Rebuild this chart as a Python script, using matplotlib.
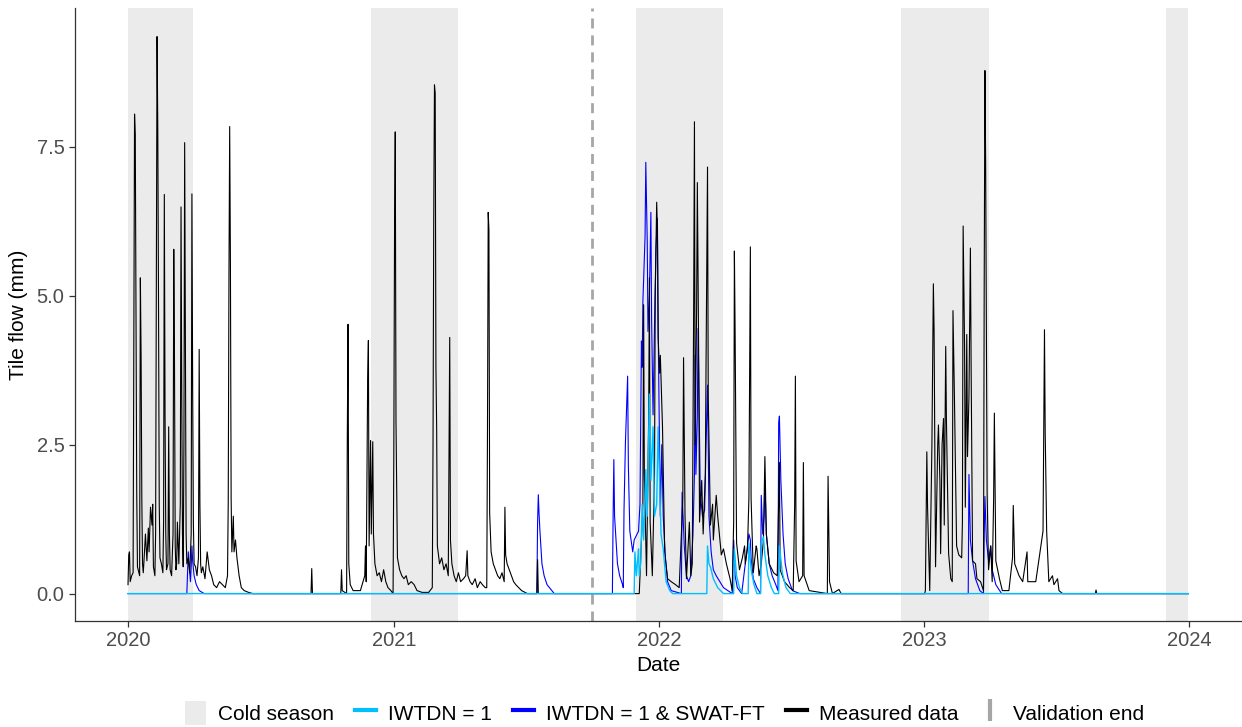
import matplotlib
matplotlib.use("Agg")
import matplotlib.pyplot as plt
import matplotlib.dates as mdates
from matplotlib.patches import Patch
from matplotlib.lines import Line2D
import pandas as pd

plt.rcParams['font.family'] = ['Liberation Sans', 'DejaVu Sans']

# days since 2020-01-01 and daily tile flow (mm)
meas_day = [0, 1, 2, 3, 5, 7, 8, 9, 10, 11, 12, 13, 15, 16, 17, 18, 19, 20, 21, 22,
            24, 26, 28, 29, 31, 33, 34, 35, 37, 38, 39, 40, 41, 42, 43, 44, 46, 48, 49, 50,
            51, 52, 53, 55, 56, 57, 58, 60, 62, 63, 64, 65, 66, 67, 68, 70, 72, 73, 74, 75,
            76, 77, 78, 79, 80, 81, 83, 85, 87, 88, 89, 90, 91, 93, 95, 97, 98, 99, 100, 101,
            103, 106, 109, 112, 115, 118, 122, 126, 130, 134, 137, 138, 139, 140, 141, 142, 143, 145, 146, 148,
            150, 153, 156, 160, 166, 172, 252, 253, 254, 293, 294, 295, 301, 302, 303, 304, 306, 310, 320, 326,
            327, 328, 330, 331, 332, 334, 335, 337, 338, 340, 343, 346, 349, 352, 355, 358, 362, 365, 366, 367,
            368, 369, 371, 374, 377, 380, 383, 386, 390, 394, 398, 405, 414, 419, 420, 421, 422, 423, 424, 425,
            426, 429, 432, 435, 438, 441, 442, 443, 444, 446, 449, 452, 455, 458, 462, 465, 467, 468, 471, 474,
            478, 481, 485, 488, 492, 494, 495, 496, 497, 498, 500, 503, 506, 509, 512, 515, 518, 519, 520, 522,
            525, 528, 531, 534, 538, 542, 550, 563, 564, 565, 703, 704, 709, 710, 711, 714, 717, 718, 719, 722,
            725, 726, 728, 729, 730, 732, 733, 736, 739, 743, 748, 754, 759, 764, 765, 767, 769, 773, 775, 777,
            779, 780, 781, 783, 784, 786, 787, 790, 792, 795, 796, 798, 799, 802, 805, 806, 810, 812, 817, 820,
            824, 826, 829, 832, 834, 835, 836, 838, 842, 846, 849, 850, 853, 855, 857, 858, 861, 865, 866, 869,
            872, 875, 877, 879, 883, 889, 894, 897, 898, 904, 911, 916, 918, 919, 920, 924, 929, 930, 931, 938,
            963, 964, 966, 970, 979, 982, 1097, 1098, 1099, 1100, 1101, 1104, 1107, 1109, 1110, 1112, 1115, 1116, 1118, 1119,
            1121, 1123, 1124, 1126, 1127, 1130, 1133, 1135, 1136, 1138, 1141, 1144, 1148, 1149, 1150, 1152, 1153, 1155, 1156, 1158,
            1160, 1161, 1163, 1167, 1169, 1174, 1178, 1179, 1180, 1181, 1183, 1185, 1188, 1190, 1192, 1193, 1195, 1200, 1204, 1213,
            1218, 1219, 1221, 1227, 1232, 1238, 1239, 1250, 1260, 1262, 1263, 1265, 1268, 1273, 1275, 1280, 1282, 1287, 1332, 1333,
            1334, 1460]
meas_val = [0.15, 0.65, 0.7, 0.2, 0.3, 0.35, 4.0, 8.05, 7.7, 4.9, 1.7, 0.45, 0.35, 0.3, 5.3, 4.0, 1.6, 0.5, 0.35, 0.55,
            1.0, 0.55, 1.1, 0.7, 1.45, 1.15, 1.5, 0.45, 0.3, 1.0, 5.0, 9.35, 7.8, 4.9, 1.5, 0.6, 0.5, 0.35, 1.2, 6.7,
            3.0, 1.0, 0.4, 0.5, 2.8, 1.0, 0.4, 0.3, 1.0, 5.78, 3.9, 0.8, 0.4, 0.5, 1.2, 0.5, 1.5, 6.49, 3.4, 1.0,
            0.45, 2.5, 7.57, 4.5, 1.0, 0.5, 0.6, 0.35, 1.0, 6.71, 3.5, 1.2, 0.5, 0.45, 0.3, 0.6, 4.1, 1.5, 0.5, 0.35,
            0.45, 0.25, 0.7, 0.4, 0.3, 0.15, 0.1, 0.2, 0.15, 0.1, 0.3, 1.5, 5.3, 7.84, 5.6, 1.6, 0.7, 1.3, 0.7, 0.9,
            0.6, 0.3, 0.1, 0.05, 0.02, 0.0, 0.0, 0.42, 0.0, 0.0, 0.4, 0.05, 0.0, 2.7, 4.52, 0.5, 0.15, 0.05, 0.05, 0.3,
            0.8, 0.2, 3.6, 4.25, 0.8, 2.57, 1.0, 2.55, 1.0, 0.5, 0.3, 0.35, 0.2, 0.4, 0.2, 0.1, 0.05, 0.0, 2.3, 6.0,
            7.75, 2.9, 0.6, 0.4, 0.3, 0.25, 0.3, 0.15, 0.2, 0.15, 0.05, 0.02, 0.02, 0.1, 2.5, 6.3, 8.54, 8.4, 3.8, 2.8,
            0.8, 0.5, 0.6, 0.4, 0.5, 0.3, 2.2, 4.3, 0.9, 0.5, 0.3, 0.2, 0.35, 0.2, 0.25, 0.3, 0.72, 0.3, 0.2, 0.15,
            0.25, 0.1, 0.2, 0.15, 0.1, 0.1, 2.7, 6.4, 6.1, 1.35, 0.7, 0.5, 0.4, 0.3, 0.25, 0.35, 0.2, 1.45, 0.65, 0.5,
            0.4, 0.3, 0.2, 0.15, 0.1, 0.05, 0.0, 0.0, 0.57, 0.0, 0.0, 0.0, 1.5, 4.85, 2.0, 0.3, 3.0, 5.3, 1.2, 0.3,
            2.0, 5.0, 6.57, 6.1, 4.3, 3.7, 4.0, 2.8, 0.7, 0.25, 0.2, 0.15, 0.1, 1.6, 3.96, 1.3, 0.25, 1.2, 0.3, 0.5,
            5.0, 7.92, 2.5, 4.8, 6.9, 3.7, 1.2, 1.9, 1.0, 2.0, 3.9, 7.16, 3.3, 1.15, 1.5, 0.9, 1.65, 1.3, 0.65, 0.75,
            0.5, 0.4, 0.25, 0.05, 1.2, 5.75, 4.4, 0.85, 0.4, 0.6, 0.8, 0.5, 0.75, 1.6, 5.82, 1.6, 0.35, 0.8, 0.75, 0.3,
            0.5, 0.9, 2.3, 1.0, 0.5, 0.35, 0.3, 2.2, 0.4, 0.2, 0.1, 0.05, 1.5, 3.65, 0.55, 0.2, 0.3, 2.2, 0.3, 0.05,
            0.0, 1.97, 0.2, 0.0, 0.07, 0.0, 0.0, 0.05, 1.2, 2.38, 1.45, 0.05, 2.5, 5.2, 4.4, 0.45, 2.5, 2.83, 1.9, 0.67,
            2.5, 2.94, 1.15, 4.15, 2.9, 0.67, 0.25, 0.2, 4.75, 3.3, 0.8, 0.65, 0.6, 1.2, 6.17, 4.1, 1.45, 4.35, 2.3, 3.3,
            5.8, 3.8, 0.55, 0.5, 0.25, 0.2, 0.05, 5.15, 8.78, 7.2, 1.7, 0.4, 0.8, 0.2, 1.6, 3.03, 0.55, 0.25, 0.05, 0.05,
            0.6, 1.48, 0.5, 0.3, 0.2, 0.7, 0.2, 0.2, 1.05, 4.43, 2.7, 1.05, 0.2, 0.3, 0.15, 0.25, 0.05, 0.0, 0.0, 0.06,
            0.0, 0.0]

# IWTDN = 1 & SWAT-FT
ft_day = [0, 81, 82, 83, 84, 86, 87, 88, 89, 91, 94, 98, 105, 563, 564, 565, 566, 567, 568, 570,
          573, 577, 587, 667, 668, 669, 670, 672, 674, 677, 681, 682, 683, 685, 688, 689, 691, 695, 697, 699,
          703, 705, 707, 708, 709, 712, 713, 714, 715, 716, 718, 720, 721, 723, 725, 727, 729, 730, 731, 733,
          735, 737, 740, 743, 748, 762, 763, 764, 766, 769, 772, 775, 778, 780, 781, 782, 784, 785, 786, 788,
          791, 794, 796, 798, 799, 800, 803, 806, 810, 815, 820, 826, 832, 834, 836, 839, 845, 855, 857, 858,
          861, 866, 871, 872, 874, 876, 877, 879, 883, 887, 892, 895, 896, 897, 899, 902, 905, 909, 915, 925,
          1157, 1158, 1160, 1163, 1167, 1173, 1178, 1179, 1180, 1182, 1185, 1188, 1190, 1195, 1203, 1460]
ft_val = [0.0, 0.0, 0.35, 0.7, 0.5, 0.2, 0.45, 0.8, 0.55, 0.3, 0.15, 0.05, 0.0, 0.0, 1.2, 1.66, 1.35, 1.1, 0.9, 0.5,
          0.3, 0.15, 0.0, 0.0, 1.3, 2.25, 1.3, 0.9, 0.5, 0.3, 0.15, 0.1, 1.4, 2.55, 3.65, 2.15, 1.05, 0.7, 0.9, 0.95,
          1.05, 1.5, 4.24, 3.8, 4.9, 6.0, 7.24, 6.6, 5.9, 4.4, 5.0, 6.4, 4.6, 3.0, 4.5, 5.8, 6.3, 4.5, 3.4, 1.3,
          2.5, 1.3, 0.6, 0.2, 0.05, 0.0, 1.7, 1.4, 0.8, 0.3, 0.2, 0.3, 1.0, 2.0, 4.0, 2.0, 3.0, 4.45, 3.5, 1.7,
          1.3, 1.4, 2.5, 3.5, 2.5, 1.3, 0.7, 0.4, 0.3, 0.2, 0.1, 0.05, 0.0, 0.9, 0.3, 0.1, 0.0, 1.0, 0.9, 0.6,
          0.25, 0.1, 0.0, 1.65, 1.0, 1.3, 1.9, 1.0, 0.5, 0.3, 0.15, 0.05, 2.87, 2.98, 1.9, 1.0, 0.5, 0.25, 0.05, 0.0,
          0.0, 2.0, 0.9, 0.55, 0.25, 0.05, 0.0, 1.0, 1.63, 0.9, 0.55, 0.8, 0.4, 0.15, 0.0, 0.0]

# IWTDN = 1
iw_day = [0, 697, 698, 700, 702, 703, 704, 706, 708, 710, 713, 715, 718, 720, 723, 725, 728, 730, 732, 734,
          737, 741, 746, 750, 797, 798, 800, 802, 806, 812, 820, 834, 835, 838, 842, 846, 854, 855, 858, 862,
          866, 871, 872, 875, 877, 881, 886, 890, 896, 897, 901, 906, 912, 1460]
iw_val = [0.0, 0.0, 0.7, 0.3, 0.6, 0.75, 0.3, 0.5, 1.5, 0.9, 2.08, 1.3, 3.35, 1.9, 2.8, 1.3, 1.5, 2.8, 1.9, 1.0,
          0.75, 0.2, 0.05, 0.0, 0.0, 0.8, 0.5, 0.45, 0.25, 0.1, 0.0, 0.0, 0.75, 0.3, 0.1, 0.0, 0.0, 0.85, 0.4, 0.15,
          0.0, 0.0, 0.85, 0.95, 0.65, 0.3, 0.1, 0.0, 0.0, 0.8, 0.35, 0.1, 0.0, 0.0]

cold_start = ['2020-01-01', '2020-12-01', '2021-12-01', '2022-12-01', '2023-12-01']
cold_end = ['2020-03-31', '2021-03-31', '2022-03-31', '2023-03-31', '2023-12-31']
validation_end = '2021-10-01'

start = pd.Timestamp('2020-01-01')
meas_date = start + pd.to_timedelta(meas_day, unit='D')
ft_date = start + pd.to_timedelta(ft_day, unit='D')
iw_date = start + pd.to_timedelta(iw_day, unit='D')

fig = plt.figure(figsize=(12.42, 7.27), dpi=100)
ax = fig.add_axes([75 / 1242, 1 - 621 / 727, 1 - 75 / 1242, (621 - 8) / 727])

shade = '#EBEBEB'
for s, e in zip(cold_start, cold_end):
    ax.axvspan(pd.Timestamp(s), pd.Timestamp(e), color=shade, lw=0, zorder=0)

ax.axvline(pd.Timestamp(validation_end), color='#A6A6A6', lw=2, ls=(0, (3.6, 2.5)), zorder=1)

ax.plot(ft_date, ft_val, color='#0000FF', lw=0.8, zorder=2)
ax.plot(meas_date, meas_val, color='black', lw=0.8, zorder=3)
ax.plot(iw_date, iw_val, color='#00BFFF', lw=1.0, zorder=4)

ax.set_xlim(start - pd.Timedelta(days=73), pd.Timestamp('2024-01-01') + pd.Timedelta(days=73))
ax.set_ylim(-0.46, 9.83)
ax.set_xticks([pd.Timestamp(f'{y}-01-01') for y in range(2020, 2025)])
ax.xaxis.set_major_formatter(mdates.DateFormatter('%Y'))
ax.set_yticks([0, 2.5, 5, 7.5])
ax.set_yticklabels(['0.0', '2.5', '5.0', '7.5'])

for side in ['top', 'right']:
    ax.spines[side].set_visible(False)
for side in ['left', 'bottom']:
    ax.spines[side].set_color('#333333')
    ax.spines[side].set_linewidth(0.9)
ax.tick_params(colors='#333333', labelcolor='#4D4D4D', labelsize=14.5, length=4, width=0.9)

ax.set_xlabel('Date', fontsize=15, labelpad=4)
ax.set_ylabel('Tile flow (mm)', fontsize=15, labelpad=6)

handles = [
    Patch(facecolor=shade, edgecolor='none'),
    Line2D([], [], color='#00BFFF', lw=3),
    Line2D([], [], color='#0000FF', lw=3),
    Line2D([], [], color='black', lw=3),
    Line2D([], [], color='#A6A6A6', marker='|', linestyle='None', markersize=16, markeredgewidth=3),
]
labels = ['Cold season', 'IWTDN = 1', 'IWTDN = 1 & SWAT-FT', 'Measured data', 'Validation end']
fig.legend(handles, labels, loc='center', bbox_to_anchor=(0.535, 14 / 727), ncol=5, frameon=False,
           fontsize=15, handlelength=1.0, handleheight=1.4, handletextpad=0.6, columnspacing=1.0)

fig.savefig('out.png', dpi=100)
